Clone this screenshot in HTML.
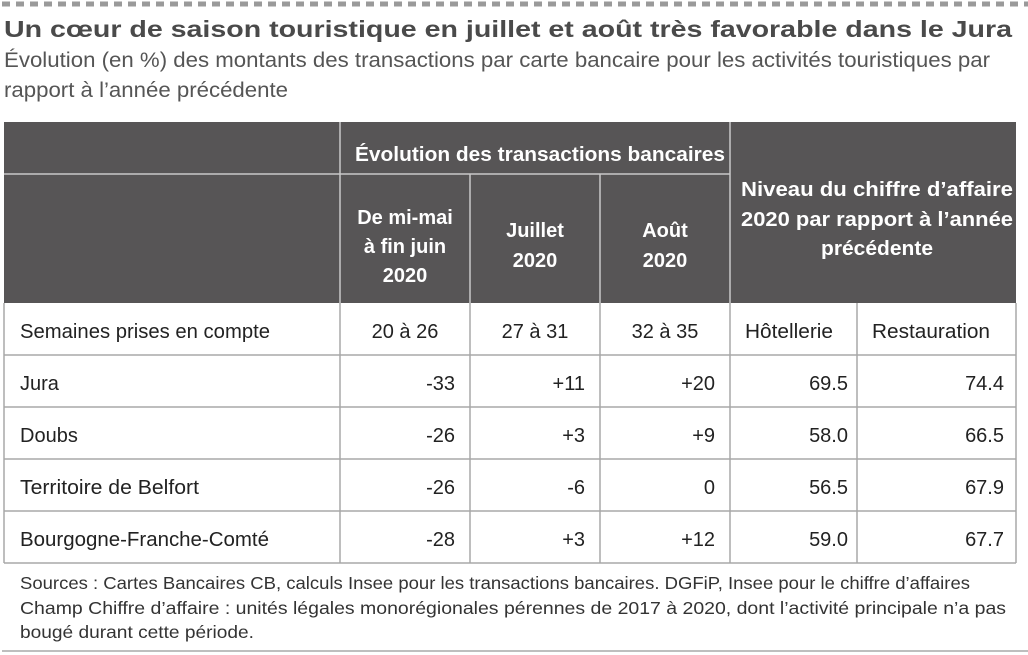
<!DOCTYPE html>
<html><head><meta charset="utf-8"><style>
html,body{margin:0;padding:0;background:#fff;width:1028px;height:655px;overflow:hidden}
svg{display:block}
text{font-family:"Liberation Sans",sans-serif}
</style></head><body>
<svg width="1028" height="655" viewBox="0 0 1028 655" xmlns="http://www.w3.org/2000/svg">
<line x1="2" y1="4" x2="1028" y2="4" stroke="#9a9a9a" stroke-width="5" stroke-dasharray="8,6"/>
<text x="4" y="37" font-size="23" font-weight="bold" fill="#4a4a4a" textLength="1008" lengthAdjust="spacingAndGlyphs">Un cœur de saison touristique en juillet et août très favorable dans le Jura</text>
<text x="4" y="67" font-size="21" fill="#555" textLength="986" lengthAdjust="spacingAndGlyphs">Évolution (en %) des montants des transactions par carte bancaire pour les activités touristiques par</text>
<text x="4" y="97" font-size="21" fill="#555" textLength="284" lengthAdjust="spacingAndGlyphs">rapport à l’année précédente</text>
<rect x="4" y="122" width="1012" height="181" fill="#575556"/>
<g stroke="#c8c8c8" stroke-width="1.5">
<line x1="4" y1="174" x2="730" y2="174"/>
<line x1="340" y1="122" x2="340" y2="303"/>
<line x1="470" y1="174" x2="470" y2="303"/>
<line x1="600" y1="174" x2="600" y2="303"/>
<line x1="730" y1="122" x2="730" y2="303"/>
</g>
<g fill="#fff" font-weight="bold" font-size="20" text-anchor="middle">
<text x="540" y="161" textLength="370" lengthAdjust="spacingAndGlyphs">Évolution des transactions bancaires</text>
<text x="405" y="224">De mi-mai</text>
<text x="405" y="253">à fin juin</text>
<text x="405" y="282">2020</text>
<text x="535" y="237">Juillet</text>
<text x="535" y="267">2020</text>
<text x="665" y="237">Août</text>
<text x="665" y="267">2020</text>
<text x="877" y="196" textLength="272" lengthAdjust="spacingAndGlyphs">Niveau du chiffre d’affaire</text>
<text x="877" y="226" textLength="272" lengthAdjust="spacingAndGlyphs">2020 par rapport à l’année</text>
<text x="877" y="255" textLength="112" lengthAdjust="spacingAndGlyphs">précédente</text>
</g>
<g stroke="#a8a8a8" stroke-width="1.5" fill="none">
<line x1="4" y1="303" x2="4" y2="563"/>
<line x1="340" y1="303" x2="340" y2="563"/>
<line x1="470" y1="303" x2="470" y2="563"/>
<line x1="600" y1="303" x2="600" y2="563"/>
<line x1="730" y1="303" x2="730" y2="563"/>
<line x1="857" y1="303" x2="857" y2="563"/>
<line x1="1016" y1="303" x2="1016" y2="563"/>
<line x1="4" y1="355" x2="1016" y2="355"/>
<line x1="4" y1="407" x2="1016" y2="407"/>
<line x1="4" y1="459" x2="1016" y2="459"/>
<line x1="4" y1="511" x2="1016" y2="511"/>
<line x1="4" y1="563" x2="1016" y2="563"/>
<line x1="2" y1="651" x2="1028" y2="651"/>
</g>
<g fill="#222" font-size="20">
<text x="20" y="338" textLength="250" lengthAdjust="spacingAndGlyphs">Semaines prises en compte</text>
<text x="405" y="338" text-anchor="middle">20 à 26</text>
<text x="535" y="338" text-anchor="middle">27 à 31</text>
<text x="665" y="338" text-anchor="middle">32 à 35</text>
<text x="745" y="338" textLength="88" lengthAdjust="spacingAndGlyphs">Hôtellerie</text>
<text x="872" y="338" textLength="118" lengthAdjust="spacingAndGlyphs">Restauration</text>
<text x="20" y="390">Jura</text>
<text x="20" y="442">Doubs</text>
<text x="20" y="494" textLength="179" lengthAdjust="spacingAndGlyphs">Territoire de Belfort</text>
<text x="20" y="546" textLength="249" lengthAdjust="spacingAndGlyphs">Bourgogne-Franche-Comté</text>
<g text-anchor="end">
<text x="455" y="390">-33</text><text x="585" y="390">+11</text><text x="715" y="390">+20</text><text x="848" y="390">69.5</text><text x="1004" y="390">74.4</text>
<text x="455" y="442">-26</text><text x="585" y="442">+3</text><text x="715" y="442">+9</text><text x="848" y="442">58.0</text><text x="1004" y="442">66.5</text>
<text x="455" y="494">-26</text><text x="585" y="494">-6</text><text x="715" y="494">0</text><text x="848" y="494">56.5</text><text x="1004" y="494">67.9</text>
<text x="455" y="546">-28</text><text x="585" y="546">+3</text><text x="715" y="546">+12</text><text x="848" y="546">59.0</text><text x="1004" y="546">67.7</text>
</g>
</g>
<g fill="#333" font-size="17.5">
<text x="20" y="589" textLength="950" lengthAdjust="spacingAndGlyphs">Sources : Cartes Bancaires CB, calculs Insee pour les transactions bancaires. DGFiP, Insee pour le chiffre d’affaires</text>
<text x="20" y="614" textLength="986" lengthAdjust="spacingAndGlyphs">Champ Chiffre d’affaire : unités légales monorégionales pérennes de 2017 à 2020, dont l’activité principale n’a pas</text>
<text x="20" y="638" textLength="234" lengthAdjust="spacingAndGlyphs">bougé durant cette période.</text>
</g>
</svg>
</body></html>
